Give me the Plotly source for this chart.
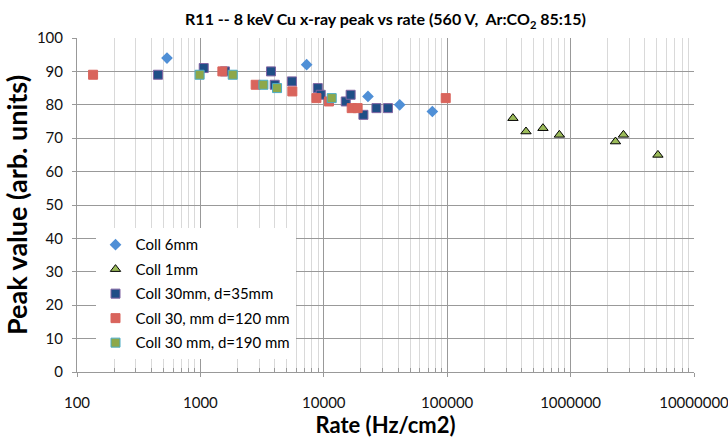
import plotly.graph_objects as go

# Data
coll6_x = [536, 7260, 22800, 41200, 75800]
coll6_y = [94, 92, 82.5, 80, 78]

coll1_x = [341000, 435000, 597000, 811000, 2310000, 2680000, 5100000]
coll1_y = [76, 72, 73, 71, 69, 71, 65]

d35_x = [453, 1064, 1580, 3733, 4000, 5520, 8930, 9440, 15060, 16500, 20940, 26700, 33100]
d35_y = [89, 91, 90, 90, 86, 87, 85, 83, 81, 83, 77, 79, 79]

d120_x = [135, 1507, 2806, 5560, 8710, 11010, 16830, 18800, 97300]
d120_y = [89, 90, 86, 84, 82, 81, 79, 79, 82]

d190_x = [986, 1828, 3240, 4180, 11590]
d190_y = [89, 89, 86, 85, 82]

x_tickvals = [100, 1000, 10000, 100000, 1000000, 10000000]
x_ticktext = ["100", "1000", "10000", "100000", "1000000", "10000000"]
y_tickvals = list(range(0, 101, 10))

FONT = "Lato"

fig = go.Figure()

series = [
    ("Coll 6mm", coll6_x, coll6_y, dict(symbol="diamond", size=9, color="#4F8FD6",
                                         line=dict(width=0))),
    ("Coll 1mm", coll1_x, coll1_y, dict(symbol="triangle-up", size=9, color="#9BBB59",
                                         line=dict(width=1, color="#000000"))),
    ("Coll 30mm, d=35mm", d35_x, d35_y, dict(symbol="square", size=9, color="#1F4E86",
                                               line=dict(width=1, color="#8064A2"))),
    ("Coll 30, mm d=120 mm", d120_x, d120_y, dict(symbol="square", size=9, color="#D9645C",
                                                   line=dict(width=1, color="#D9645C"))),
    ("Coll 30 mm, d=190 mm", d190_x, d190_y, dict(symbol="square", size=9, color="#8DA84A",
                                                   line=dict(width=1, color="#4BACC6"))),
]

for i, (name, xs, ys, mk) in enumerate(series):
    fig.add_trace(go.Scatter(x=xs, y=ys, mode="markers", name=name, marker=mk,
                             legendgroup=f"g{i}"))

minor_vals = [m * 10 ** e for e in range(2, 7) for m in range(2, 10)]

fig.update_layout(
    width=728, height=441,
    margin=dict(l=77, r=34, t=38, b=69, autoexpand=False),
    paper_bgcolor="white", plot_bgcolor="white",
    font=dict(family=FONT, size=15, color="#111111"),
    title=dict(text="<b>R11 -- 8 keV Cu x-ray peak vs rate (560 V,  Ar:CO<sub>2</sub> 85:15)</b>",
               x=0.5, xref="paper", xanchor="center", y=0.955, yanchor="middle",
               font=dict(family=FONT, size=16, color="#000000")),
    showlegend=True,
    legend=dict(x=0.03, y=0.43, xanchor="left", yanchor="top",
                bgcolor="white", borderwidth=0, tracegroupgap=2,
                font=dict(family=FONT, size=15, color="#000000"),
                itemwidth=30),
)

fig.update_xaxes(
    type="log", range=[2, 7], automargin=False,
    tickvals=x_tickvals, ticktext=x_ticktext,
    ticklabeloverflow="allow",
    showgrid=True, gridcolor="#999999", gridwidth=1,
    minor=dict(tickvals=minor_vals, showgrid=True, gridcolor="#D9D9D9", gridwidth=1,
               ticks="inside", ticklen=4, tickcolor="#999999"),
    showline=True, linecolor="#999999", linewidth=1,
    ticks="outside", ticklen=4, tickcolor="#999999",
    ticklabelstandoff=13,
    tickfont=dict(family=FONT, size=15, color="#111111"),
    title=dict(text="<b>Rate (Hz/cm2)</b>", font=dict(family=FONT, size=22, color="#000000"),
               standoff=6),
    zeroline=False, mirror=False,
)

fig.update_yaxes(
    range=[0, 100], tickvals=y_tickvals, automargin=False,
    showgrid=True, gridcolor="#999999", gridwidth=1,
    showline=True, linecolor="#999999", linewidth=1,
    ticks="outside", ticklen=4, tickcolor="#999999",
    ticklabelstandoff=6,
    tickfont=dict(family=FONT, size=15, color="#111111"),
    title=dict(text="<b>Peak value (arb. units)</b>", font=dict(family=FONT, size=27, color="#000000"),
               standoff=4),
    zeroline=False,
)

fig.write_html("out.html")
